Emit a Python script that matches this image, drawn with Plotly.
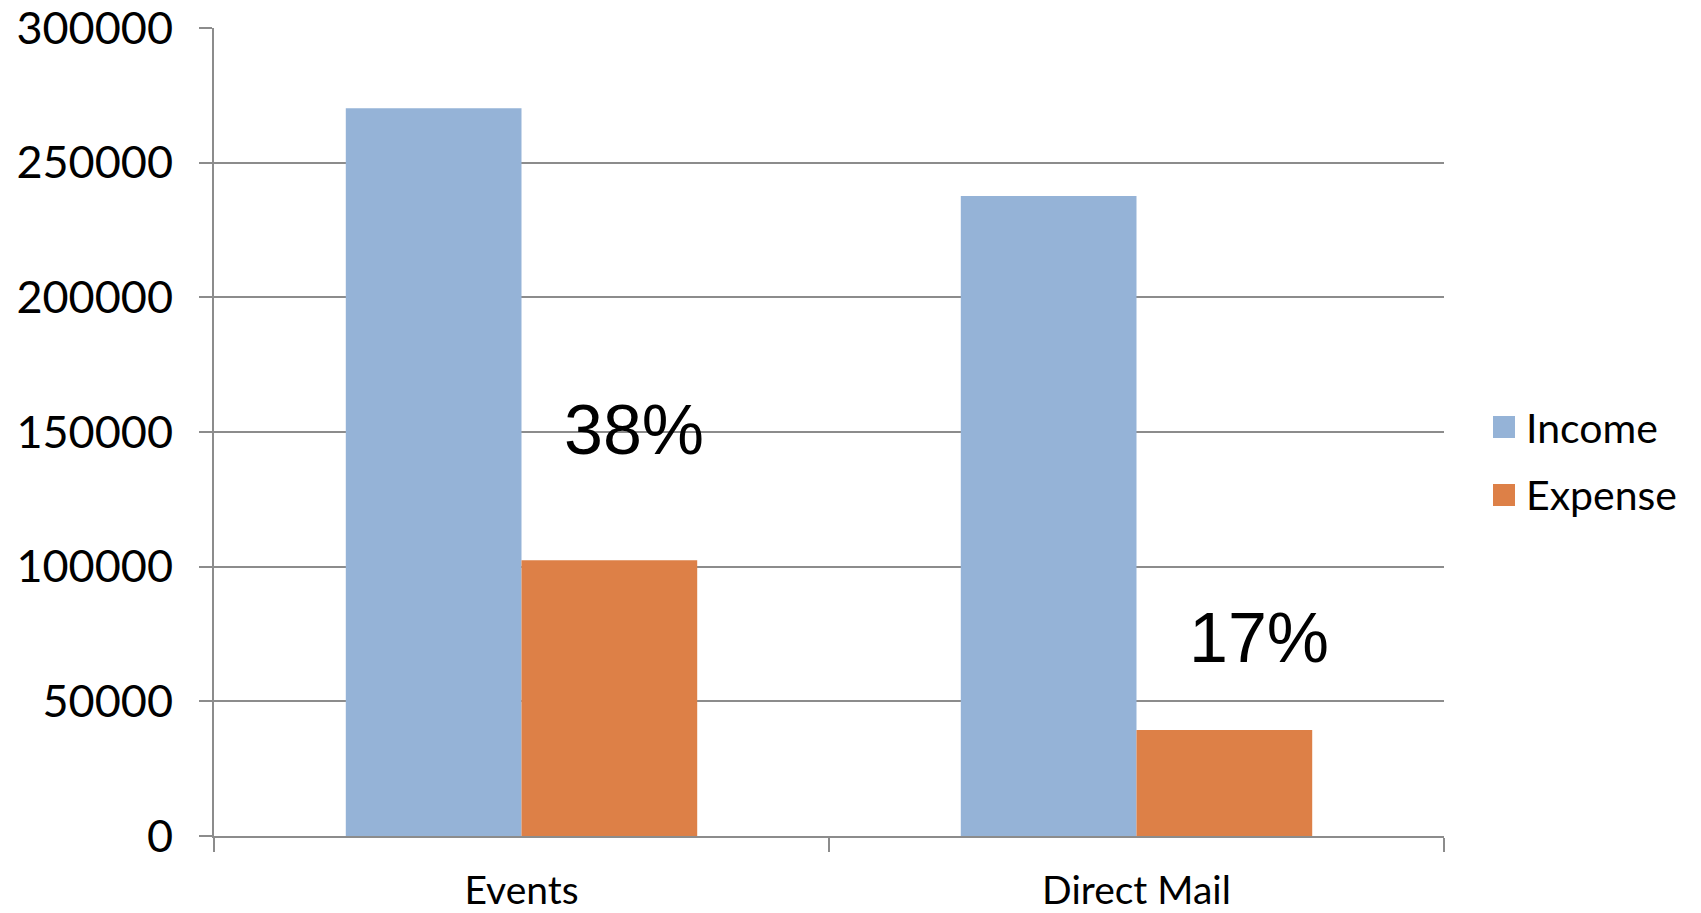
import plotly.graph_objects as go

categories = ["Events", "Direct Mail"]
series_names = ["Income", "Expense"]
income = [270200, 237600]
expense = [102400, 39400]
pct_labels = ["38%", "17%"]
y_ticks = [0, 50000, 100000, 150000, 200000, 250000, 300000]

colors = ["#95B3D7", "#DD8047"]
grid = "#8C8C8C"
W, H = 1701, 913
L, R, T, B = 214, 257, 28, 77
pw, ph = W - L - R, H - T - B

def px_x(x):
    return (x - L) / pw

def px_y(y):
    return (H - B - y) / ph

fig = go.Figure()
for name, vals, col in zip(series_names, [income, expense], colors):
    fig.add_trace(go.Bar(x=categories, y=vals, name=name, marker=dict(color=col, line=dict(width=0)),
                         showlegend=False))

# percentage annotations
pct_pos = [(112, 150700), (122, 73500)]
for cat, lab, (dx, yv) in zip(categories, pct_labels, pct_pos):
    fig.add_annotation(x=cat, y=yv, xref="x", yref="y", text=lab, showarrow=False, xshift=dx,
                       font=dict(family="Liberation Sans, Arial", size=70, color="black"),
                       xanchor="center", yanchor="middle")

# custom legend
leg_rows = [427, 495]
for name, col, yc in zip(series_names, colors, leg_rows):
    fig.add_shape(type="rect", xref="paper", yref="paper",
                  x0=px_x(1493), x1=px_x(1515), y0=px_y(yc - 11), y1=px_y(yc + 11),
                  fillcolor=col, line=dict(width=0))
    fig.add_annotation(xref="paper", yref="paper", x=px_x(1524), y=px_y(yc), text=name,
                       showarrow=False, xanchor="left", yanchor="middle",
                       font=dict(family="Lato", size=41, color="black"))

fig.update_layout(
    width=W, height=H,
    margin=dict(l=L, r=R, t=T, b=B, pad=0, autoexpand=False),
    paper_bgcolor="white", plot_bgcolor="white",
    barmode="group", bargap=0.4286, bargroupgap=0,
    font=dict(family="Lato", color="black"),
)
fig.update_yaxes(range=[0, 300000], tickvals=y_ticks, ticktext=[str(v) for v in y_ticks],
                 showgrid=True, gridcolor=grid, gridwidth=2,
                 showline=True, linecolor=grid, linewidth=2,
                 ticks="outside", ticklen=13, tickcolor=grid, tickwidth=2,
                 zeroline=False, ticklabelstandoff=17, automargin=False,
                 ticklabeloverflow="allow",
                 tickfont=dict(family="Lato", size=45, color="black"))
fig.update_xaxes(showgrid=False, showline=True, linecolor=grid, linewidth=2,
                 ticks="outside", tickson="boundaries", ticklen=14, tickcolor=grid, tickwidth=2,
                 ticklabelstandoff=19, automargin=False, ticklabeloverflow="allow",
                 tickfont=dict(family="Lato", size=39, color="black"))

fig.write_html("out.html")
